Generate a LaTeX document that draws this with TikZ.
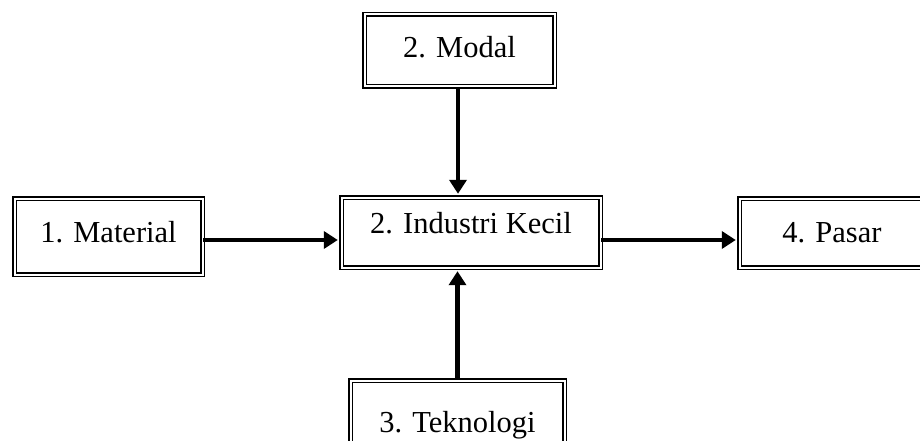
\documentclass[tikz,border=0pt]{standalone}
\usepackage{fontspec}
\setmainfont{Liberation Serif}
\usetikzlibrary{arrows.meta}
\tikzset{
  blok/.style={draw=black, line width=1.8pt, double, double distance=2pt,
    font=\fontsize{30.5}{36}\selectfont, inner sep=0pt,
    text height=26pt, text depth=#1},
  blok/.default=10pt,
  panah/.style={draw=black, line width=4.5pt, shorten >=2.8pt,
    -{Triangle[length=14pt,width=17pt]}}
}

\begin{document}
\begin{tikzpicture}[x=1pt,y=1pt]
  \useasboundingbox (0,0) rectangle (920,-441);
  \clip (0,0) rectangle (920,-441);

  \node[blok=24pt, minimum width=259pt, minimum height=70pt] (ind) at (471,-232.5) {2. Industri Kecil};
  \node[blok=15pt, minimum width=188pt, minimum height=76pt] (mat) at (108.5,-236.5) {1. Material};
  \node[blok=11pt, minimum width=190pt, minimum height=72pt] (mod) at (459.5,-50.5) {2. Modal};
  \node[blok=8pt, minimum width=185pt, minimum height=69pt] (pas) at (832,-233) {4. Pasar};
  \node[blok=3pt, minimum width=214pt, minimum height=80pt] (tek) at (457.5,-420.5) {3. Teknologi};

  % panah masuk dan keluar
  \coordinate (m1) at ([yshift=-3.5pt]mat.east);
  \coordinate (i1) at ([yshift=-7.5pt]ind.east);
  \coordinate (d1) at ([xshift=-1.5pt]mod.south);
  \draw[panah] (m1) -- (m1 -| ind.west);
  \draw[panah] (i1) -- (i1 -| pas.west);
  \draw[panah] (d1) -- (d1 |- ind.north);
  \draw[panah] (tek.north) -- (tek.north |- ind.south);
\end{tikzpicture}
\end{document}
